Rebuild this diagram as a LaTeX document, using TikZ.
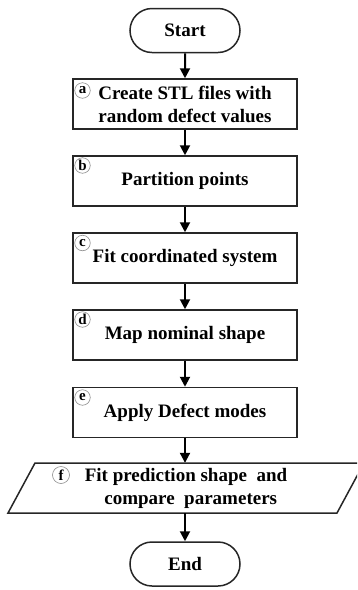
\documentclass[tikz,border=0pt]{standalone}
\usepackage{fontspec}
\setmainfont{Liberation Serif}
\usetikzlibrary{arrows.meta,shapes.misc}
\begin{document}
\begin{tikzpicture}[x=1pt,y=-1pt,
  txt/.style={font=\fontsize{19}{23}\selectfont\bfseries, align=center},
  stepbox/.style={txt, draw=black!85, line width=1.5pt, minimum width=224pt, minimum height=50pt, inner sep=0pt},
  term/.style={txt, rounded rectangle, draw=black!85, line width=1.5pt, minimum width=110pt, minimum height=44pt, inner sep=0pt},
  tag/.style={circle, draw=black!45, line width=0.6pt, inner sep=0pt, minimum size=15.5pt, font=\fontsize{15}{15}\selectfont\bfseries},
  flow/.style={draw=black, line width=2pt, -{Triangle[length=10pt,width=10pt]}},
  shapeline/.style={draw=black!85, line width=1.5pt, line join=miter}
]
\useasboundingbox (0,0) rectangle (357,590);
\clip (0,0) rectangle (357,590);

\node[term] (start) at (185,30.5) {Start};
\node[stepbox] (a) at (185,104) {Create STL files with\\random defect values};
\node[stepbox] (b) at (185,181) {Partition points};
\node[stepbox] (c) at (185,258) {Fit coordinated system};
\node[stepbox] (d) at (185,335) {Map nominal shape};
\node[stepbox] (e) at (185,412.5) {Apply Defect modes};
\node[txt, minimum width=300pt, minimum height=50pt, inner sep=0pt] (f) at (186,488) {Fit prediction shape\ \ and\\\ \ compare\ \ parameters};
\node[term] (end) at (185,564) {End};

\draw[shapeline] (35,463) -- (364,463) -- (337,513) -- (8,513) -- cycle;

\node[tag] (ta) at (82.5,90.5) {a};
\node[tag] (tb) at (82.5,165.5) {b};
\node[tag] (tc) at (82.5,243) {c};
\node[tag] (td) at (82.5,319.5) {d};
\node[tag] (te) at (82.5,397.5) {e};
\node[tag, minimum size=17pt] (tf) at (61,475) {f};

\draw[flow] (start) -- (a);
\draw[flow] (a) -- (b);
\draw[flow] (b) -- (c);
\draw[flow] (c) -- (d);
\draw[flow] (d) -- (e);
\draw[flow] (e.south) -- (e.south |- f.north);
\draw[flow] (f.south -| end.north) -- (end.north);
\end{tikzpicture}
\end{document}
